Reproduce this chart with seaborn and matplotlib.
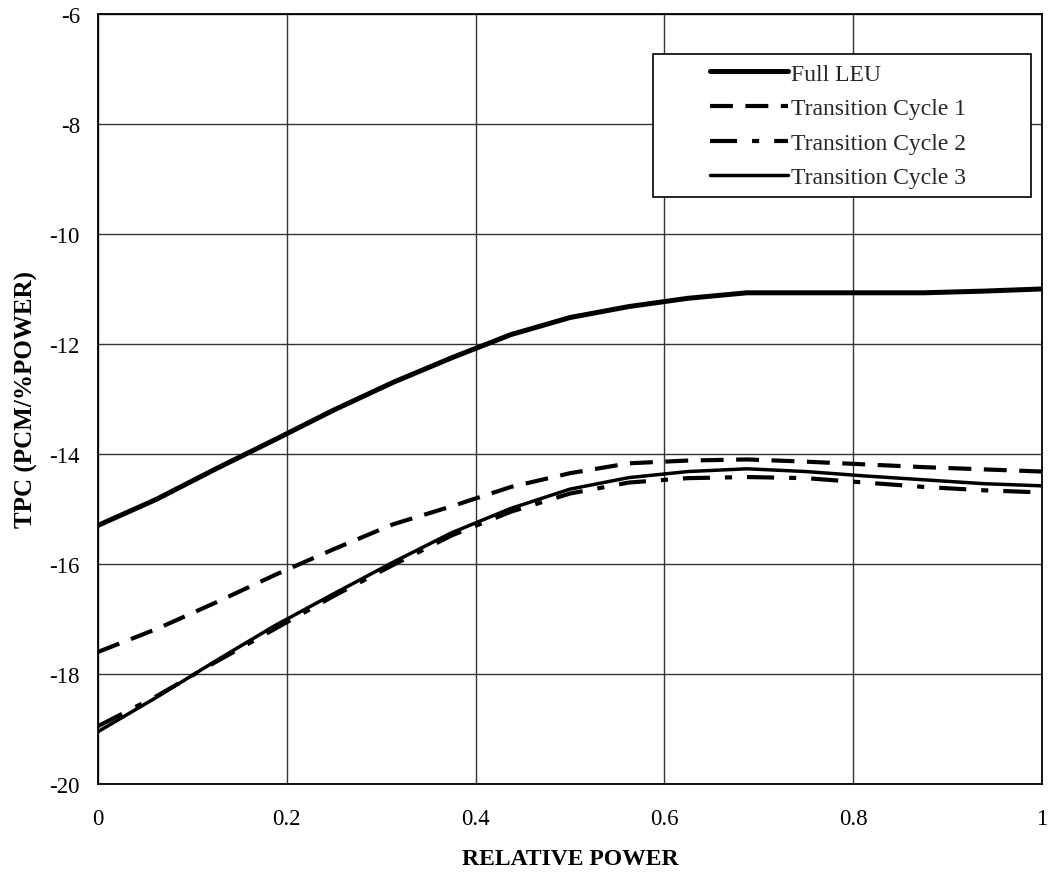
import matplotlib
matplotlib.use('Agg')
import matplotlib.pyplot as plt
import numpy as np
import pandas as pd
import seaborn as sns
from matplotlib.patches import Rectangle

# relative power, sampled every 1/16
power = [0.0, 0.0625, 0.125, 0.1875, 0.25, 0.3125, 0.375, 0.4375, 0.5,
         0.5625, 0.625, 0.6875, 0.75, 0.8125, 0.875, 0.9375, 1.0]

full_leu = [-15.30, -14.82, -14.27, -13.74, -13.20, -12.70, -12.25, -11.83, -11.52,
            -11.32, -11.17, -11.07, -11.07, -11.07, -11.07, -11.04, -11.00]
cycle1 = [-17.60, -17.18, -16.70, -16.20, -15.73, -15.28, -14.95, -14.60, -14.35,
          -14.17, -14.12, -14.10, -14.14, -14.19, -14.24, -14.28, -14.32]
cycle2 = [-18.95, -18.40, -17.78, -17.18, -16.58, -16.02, -15.48, -15.05, -14.72,
          -14.52, -14.44, -14.42, -14.44, -14.52, -14.60, -14.66, -14.70]
cycle3 = [-19.05, -18.42, -17.76, -17.12, -16.54, -15.97, -15.43, -14.99, -14.64,
          -14.43, -14.32, -14.27, -14.32, -14.40, -14.47, -14.54, -14.58]

labels = ['Full LEU', 'Transition Cycle 1', 'Transition Cycle 2', 'Transition Cycle 3']
xticks = [0, 0.2, 0.4, 0.6, 0.8, 1]
xtick_labels = ['0', '0.2', '0.4', '0.6', '0.8', '1']
yticks = [-20, -18, -16, -14, -12, -10, -8, -6]

sns.set_theme(style='whitegrid')
plt.rcParams['font.family'] = ['Liberation Serif', 'DejaVu Serif']
plt.rcParams['axes.unicode_minus'] = False

fig = plt.figure(figsize=(10.5, 8.79), dpi=100)
ax = fig.add_axes([0.0933, 0.107, 0.899, 0.876])

styles = [
    dict(lw=3.6, ls='-'),
    dict(lw=3.0, dashes=(5.5, 3.0)),
    dict(lw=3.0, dashes=(6.5, 3.6, 1.7, 3.6)),
    dict(lw=2.5, ls='-'),
]
for ys, lab, st in zip([full_leu, cycle1, cycle2, cycle3], labels, styles):
    df = pd.DataFrame({'power': power, 'tpc': ys})
    line = sns.lineplot(data=df, x='power', y='tpc', ax=ax, color='black',
                        linewidth=st['lw'], label=lab).lines[-1]
    if 'dashes' in st:
        line.set_dashes(st['dashes'])
        line.set_dash_capstyle('butt')
    line.set_solid_capstyle('round')

ax.set_xlim(0, 1)
ax.set_ylim(-20, -6)
ax.set_xticks(xticks)
ax.set_xticklabels(xtick_labels)
ax.set_yticks(yticks)
ax.grid(True, color='#333333', linewidth=1.0)
ax.set_facecolor('white')
for s in ax.spines.values():
    s.set_color('black')
    s.set_linewidth(1.3)
ax.tick_params(axis='both', length=0, labelsize=16.5, colors='black')
ax.tick_params(axis='x', pad=17)
ax.tick_params(axis='y', pad=13)

ax.set_xlabel('RELATIVE POWER', fontsize=17, fontweight='bold', labelpad=14, color='black')
ax.set_ylabel('TPC (PCM/%POWER)', fontsize=18, fontweight='bold', labelpad=8, color='black')

# legend: frameless, with a separate box to get the wide side padding
leg = ax.legend(loc='upper left', bbox_to_anchor=(0.648, 0.936), frameon=False,
                fontsize=17, handlelength=3.3, handletextpad=0.15,
                labelspacing=0.55, borderaxespad=0, borderpad=0)
box = Rectangle((0.588, 0.762), 0.400, 0.186, transform=ax.transAxes,
                facecolor='white', edgecolor='black', linewidth=1.2, zorder=4)
ax.add_patch(box)
leg.set_zorder(5)

fig.savefig('out.png', dpi=100)
